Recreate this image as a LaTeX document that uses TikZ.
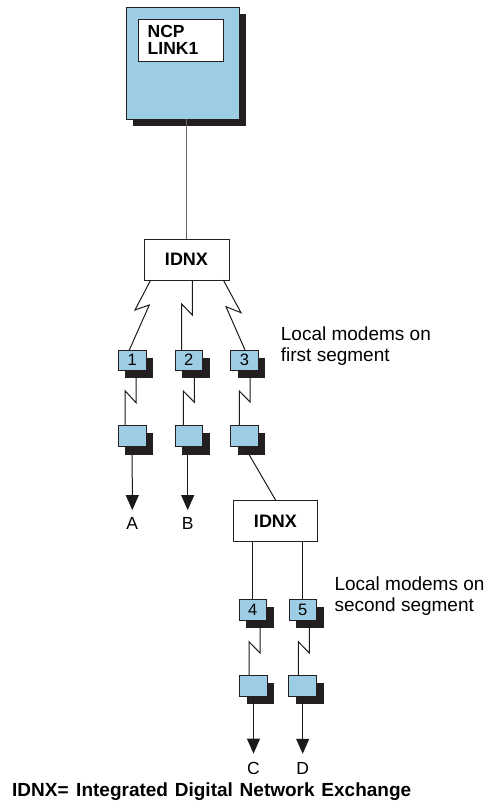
\documentclass[tikz,border=0pt]{standalone}
\usepackage{fontspec}
\setmainfont{Liberation Sans}
\usetikzlibrary{calc,shadows,arrows.meta}
\definecolor{modemblue}{HTML}{9DCDE5}
\definecolor{edge}{HTML}{231F20}
\definecolor{linec}{HTML}{1A1A1A}
\tikzset{
  boxshadow/.style={drop shadow={shadow xshift=7pt,shadow yshift=-8pt,opacity=1,fill=edge}},
  modem/.style={draw=edge,fill=modemblue,line width=0.9pt,minimum width=27.7pt,
    inner sep=0pt,outer sep=0pt,boxshadow,font=\fontsize{16.5}{16.5}\selectfont},
  idnxbox/.style={draw=edge,fill=white,line width=0.9pt,inner sep=0pt,outer sep=0pt,
    font=\bfseries\fontsize{18}{18}\selectfont},
  conn/.style={draw=linec,line width=1pt},
  arr/.style={conn,-{Triangle[width=13pt,length=15pt]}},
  endlabel/.style={inner sep=0pt,font=\fontsize{17.5}{17.5}\selectfont},
  sidelabel/.style={inner sep=0pt,anchor=base west,align=left,font=\fontsize{19}{21.6}\selectfont},
}
\begin{document}
\begin{tikzpicture}[x=1pt,y=-1pt]
\useasboundingbox (0,0) rectangle (490,804);
% NCP
\node[draw=edge,fill=modemblue,line width=0.9pt,minimum width=113pt,minimum height=112pt,
  inner sep=0pt,outer sep=0pt,drop shadow={shadow xshift=7pt,shadow yshift=-7pt,opacity=1,fill=edge}]
  (ncp) at (182.5,63) {};
\node[draw=edge,fill=white,line width=0.9pt,minimum width=85pt,minimum height=42pt,
  text width=65.6pt,align=left,inner sep=0pt,font=\bfseries\fontsize{17.5}{16.7}\selectfont]
  (ncpin) at (180.5,40) {NCP\\LINK1};
% IDNX 1
\node[idnxbox,minimum width=85pt,minimum height=41pt] (idnx1) at (186.5,259.5) {IDNX};
% modems first segment
\node[modem,minimum height=20pt] (m1) at (132.2,360) {1};
\node[modem,minimum height=20pt] (m2) at (188.8,360) {2};
\node[modem,minimum height=20pt] (m3) at (244.5,360) {3};
\node[modem,minimum height=21.7pt] (l1) at (132.2,435.8) {};
\node[modem,minimum height=21.7pt] (l2) at (188.8,435.8) {};
\node[modem,minimum height=21.7pt] (l3) at (244.5,435.8) {};
% IDNX 2
\node[idnxbox,minimum width=84.4pt,minimum height=41.7pt] (idnx2) at (275.5,520.8) {IDNX};
% modems second segment
\node[modem,minimum height=21pt] (m4) at (252.8,609.5) {4};
\node[modem,minimum height=21pt] (m5) at (302.8,609.5) {5};
\node[modem,minimum height=21pt] (l4) at (253.5,685.5) {};
\node[modem,minimum height=21pt] (l5) at (302.7,685.5) {};
% end labels
\node[endlabel] (A) at (132.3,523.3) {A};
\node[endlabel] (B) at (187.7,523.3) {B};
\node[endlabel] (C) at (253.5,768) {C};
\node[endlabel] (D) at (302.7,768) {D};
% side labels
\node[sidelabel] (seg1) at (280.7,361.7) {Local modems on\\first segment};
\node[sidelabel] (seg2) at (334.3,611.7) {Local modems on\\second segment};
\node[inner sep=0pt,anchor=base west,font=\bfseries\fontsize{19}{19}\selectfont]
  (legend) at (12,796.7) {IDNX=\hspace{0.12em} Integrated\hspace{0.08em} Digital\hspace{0.08em} Network\hspace{0.08em} Exchange};
% connectors
\draw[conn,draw=black!60] (idnx1.north |- ncp.south) -- (idnx1.north);
\draw[conn] ($(idnx1.south)+(-35.8,0)$) -- (135,310) -- (149.3,305) -- ($(m1.north)+(-2.9,0)$);
\draw[conn] ($(idnx1.south)+(5.8,0)$) -- (192.3,315) -- (181.7,304) -- ($(m2.north)+(-7.1,0)$);
\draw[conn] ($(idnx1.south)+(36.8,0)$) -- (241,312.7) -- (226,306.7) -- ($(m3.north)+(0.5,0)$);
\draw[conn] ($(m1.south)+(3.8,0)$) -- (136,402.7) -- (125,390.7) -- ($(l1.north)+(-7.2,0)$);
\draw[conn] ($(m2.south)+(5.5,0)$) -- (194.3,402.3) -- (183.3,391) -- ($(l2.north)+(-5.5,0)$);
\draw[conn] ($(m3.south)+(5.5,0)$) -- (250,402) -- (239.3,391) -- ($(l3.north)+(-5.2,0)$);
\draw[arr] (l1.south) -- ($(A.north)+(0,-7)$);
\draw[arr] (B.north |- l2.south) -- ($(B.north)+(0,-7)$);
\draw[conn] (l3.south) -- (idnx2.north);
\draw[conn] (m4.north |- idnx2.south) -- (m4.north);
\draw[conn] (m5.north |- idnx2.south) -- (m5.north);
\draw[conn] ($(m4.south)+(7.2,0)$) -- (260,653) -- (249,641.7) -- ($(l4.north)+(-4.5,0)$);
\draw[conn] ($(m5.south)+(6.5,0)$) -- (309.3,653) -- (298.3,641.7) -- ($(l5.north)+(-4.4,0)$);
\draw[arr] (C.north |- l4.south) -- ($(C.north)+(0,-8)$);
\draw[arr] (D.north |- l5.south) -- ($(D.north)+(0,-8)$);
\end{tikzpicture}
\end{document}
